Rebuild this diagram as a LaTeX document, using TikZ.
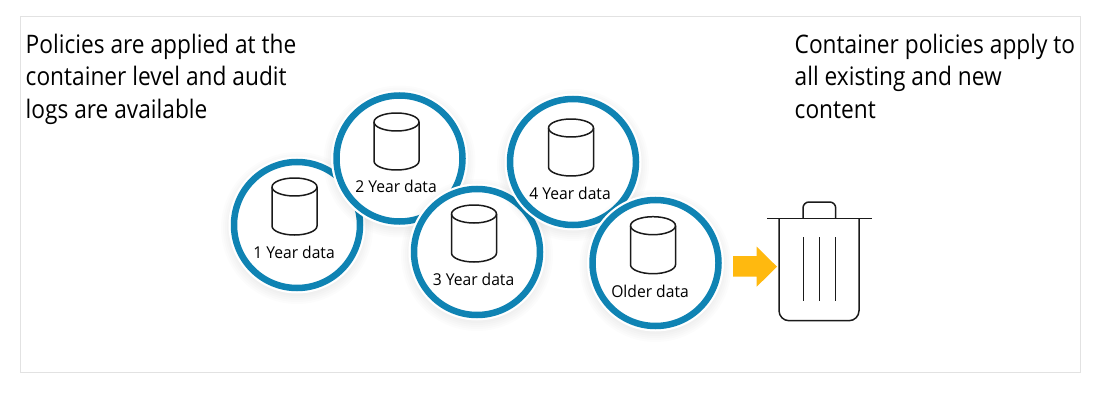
\documentclass[tikz,border=0pt]{standalone}
\usepackage{fontspec}
\setmainfont{Open Sans}
\newfontfamily\headfont[FakeStretch=0.89]{Open Sans}
\newfontfamily\labelfont[FakeStretch=0.96]{Open Sans}
\definecolor{ringblue}{HTML}{0F83B3}
\definecolor{arrowgold}{HTML}{FFB90F}
\definecolor{framegray}{HTML}{E2E2E2}
\definecolor{inkline}{HTML}{1A1A1A}
\tikzset{
  x=1pt,y=-1pt,
  framebox/.style={draw=framegray,line width=1pt,fill=white},
  headtext/.style={anchor=north west,inner sep=0pt,align=left,text=black,font=\headfont\fontsize{25.5}{32.4}\selectfont},
  ringdisc/.style={circle,draw=ringblue,fill=white,line width=6.5pt,minimum size=126pt,inner sep=0pt},
  datalabel/.style={inner sep=0pt,text=black,font=\labelfont\fontsize{16.3}{19}\selectfont},
  glyph/.style={draw=inkline,line width=1.5pt,line join=round},
  softshadow/.style={fill=black,opacity=0.012,draw=none},
  halo/.style={fill=white,draw=none},
}
% #1 name, #2 #3 centre, #4 text, #5 #6 cylinder centre x and top y, #7 #8 label position
\newcommand{\datadisc}[8]{%
  \foreach \rr in {66,68,70,72,74,76}{\fill[softshadow] (#2,#3+3) circle (\rr);}
  \fill[halo] (#2,#3) circle (68.5);
  \node[ringdisc] (#1) at (#2,#3) {};
  \draw[glyph,fill=white] (#5-22.5,#6+9) -- (#5-22.5,#6+48) arc[start angle=180,end angle=360,x radius=22.5,y radius=-9] -- (#5+22.5,#6+9) arc[start angle=0,end angle=180,x radius=22.5,y radius=-9] -- cycle;
  \draw[glyph] (#5-22.5,#6+9) arc[start angle=180,end angle=360,x radius=22.5,y radius=-9];
  \node[datalabel] (#1label) at (#7,#8) {#4};
}
\begin{document}
\begin{tikzpicture}
\useasboundingbox (0,0) rectangle (1100,401);
\fill[white] (0,0) rectangle (1100,401);
\draw[framebox] (20,17) rectangle (1080,372);
\node[headtext] (lefttext) at (25.5,34) {Policies are applied at the\\container level and audit\\logs are available};
\node[headtext] (righttext) at (794.5,34) {Container policies apply to\\all existing and new\\content};
\datadisc{one}{297}{225}{1 Year data}{294.5}{178}{294}{252}
\datadisc{two}{399.5}{158.5}{2 Year data}{396.5}{113}{396}{186.5}
\datadisc{three}{477}{252}{3 Year data}{474}{205}{473.5}{279}
\datadisc{four}{573}{162}{4 Year data}{571}{119}{570}{193}
\datadisc{older}{655.5}{263}{Older data}{653}{216.7}{650}{291.5}
% arrow
\coordinate (arrowtip) at (777,266.7);
\fill[arrowgold] (733,256) -- (756.7,256) -- (756.7,246.7) -- (arrowtip) -- (756.7,286.7) -- (756.7,276.7) -- (733,276.7) -- cycle;
% trash can
\draw[glyph] (767,218.7) -- (871.7,218.7);
\draw[glyph,rounded corners=6pt] (803,218.7) -- (803,202) -- (835.7,202) -- (835.7,218.7);
\draw[glyph,rounded corners=10pt] (779,218.7) -- (779,320.7) -- (859,320.7) -- (859,218.7);
\draw[glyph] (803.3,237.3) -- (803.3,300.7);
\draw[glyph] (819.3,237.3) -- (819.3,300.7);
\draw[glyph] (835.7,237.3) -- (835.7,300.7);
\end{tikzpicture}
\end{document}
